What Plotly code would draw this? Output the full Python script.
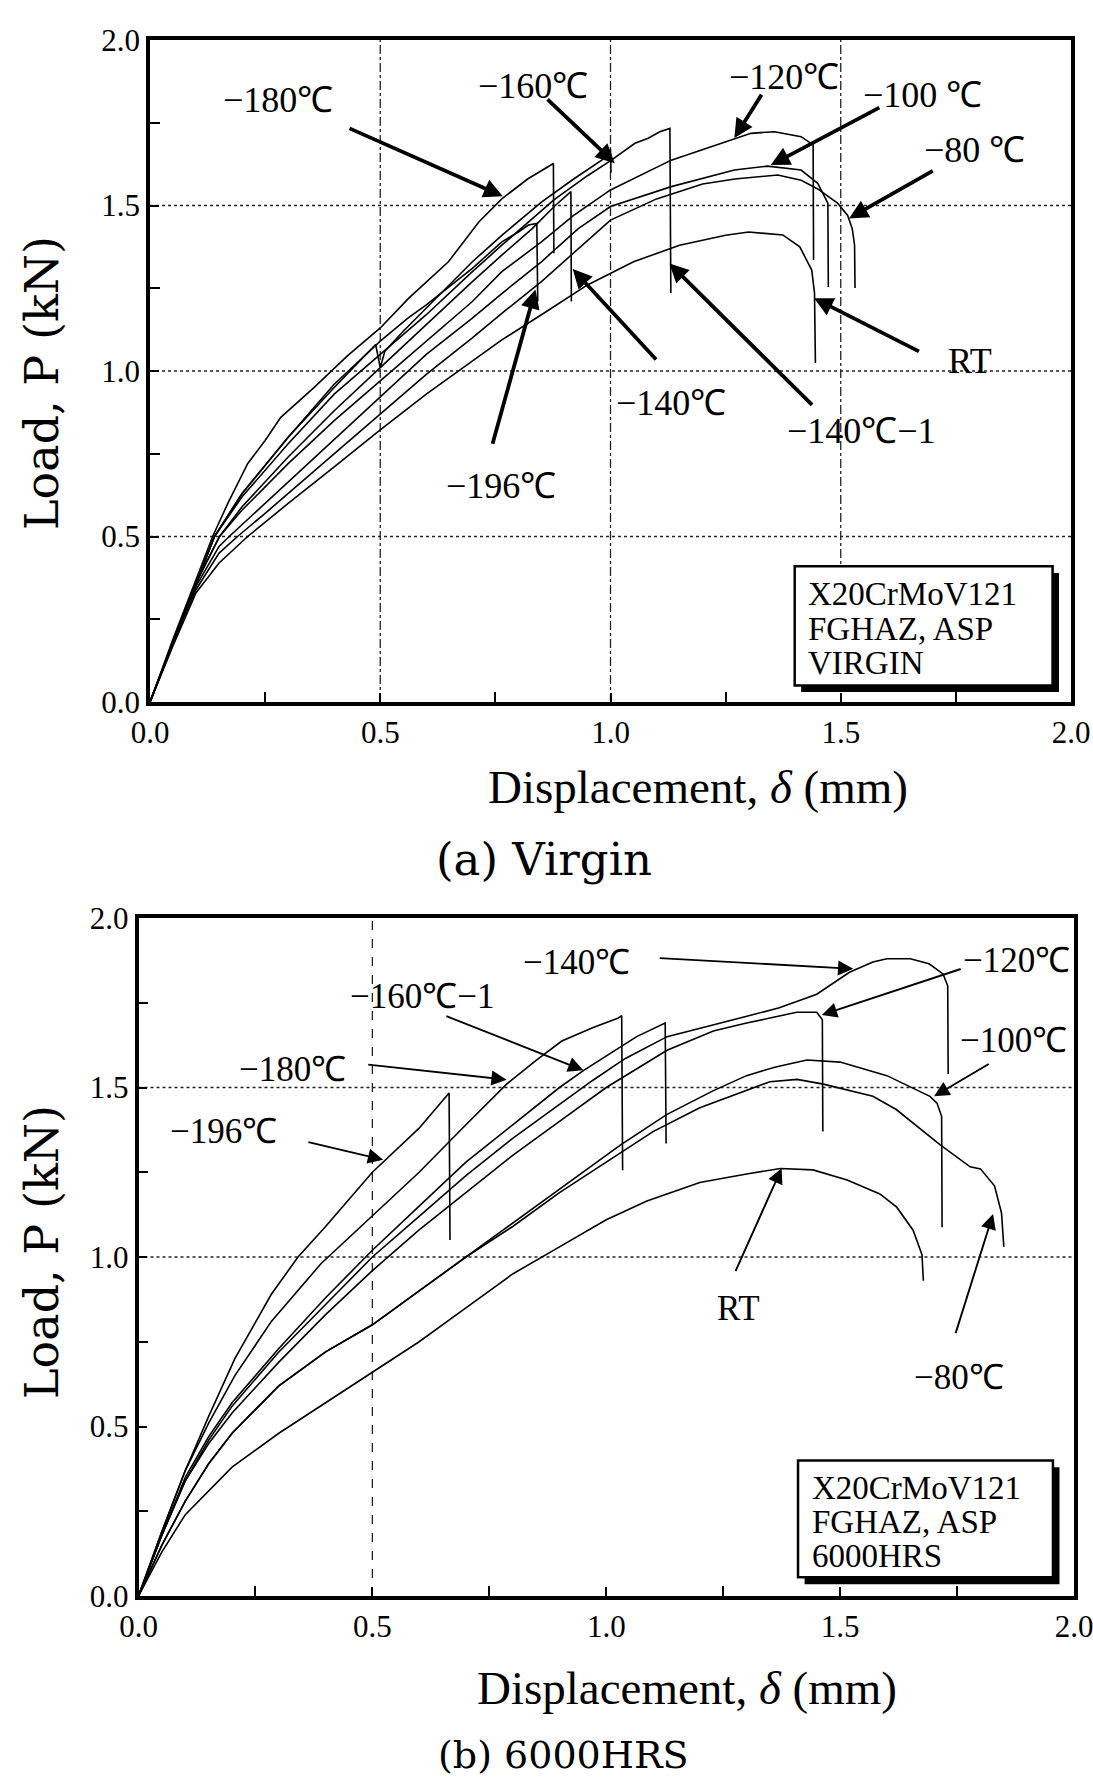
import plotly.graph_objects as go

# ---------------- (a) Virgin : load-displacement curves ----------------
a_m196_x = [0, 0.05, 0.10, 0.14, 0.20, 0.30, 0.40, 0.50, 0.56, 0.60, 0.70, 0.764, 0.80, 0.822, 0.840, 0.842]
a_m196_y = [0, 0.18, 0.36, 0.50, 0.63, 0.80, 0.96, 1.09, 1.16, 1.20, 1.31, 1.39, 1.42, 1.441, 1.446, 1.21]

a_m180_x = [0, 0.05, 0.10, 0.136, 0.169, 0.212, 0.25, 0.284, 0.356, 0.428, 0.50, 0.562, 0.648, 0.714, 0.764, 0.82, 0.876, 0.877]
a_m180_y = [0, 0.19, 0.37, 0.50, 0.60, 0.72, 0.79, 0.86, 0.95, 1.045, 1.13, 1.22, 1.33, 1.45, 1.52, 1.58, 1.627, 1.356]

a_m160_x = [0, 0.05, 0.10, 0.14, 0.20, 0.30, 0.40, 0.49, 0.50, 0.51, 0.55, 0.60, 0.70, 0.764, 0.85, 0.92, 0.981, 1.000, 1.001]
a_m160_y = [0, 0.18, 0.36, 0.50, 0.63, 0.80, 0.95, 1.08, 1.01, 1.06, 1.12, 1.19, 1.33, 1.41, 1.51, 1.58, 1.637, 1.668, 1.60]

a_m140_x = [0, 0.05, 0.10, 0.151, 0.20, 0.30, 0.40, 0.50, 0.60, 0.70, 0.764, 0.83, 0.88, 0.914, 0.915]
a_m140_y = [0, 0.18, 0.36, 0.50, 0.59, 0.74, 0.88, 1.01, 1.14, 1.27, 1.35, 1.43, 1.50, 1.542, 1.21]

a_m140b_x = [0, 0.05, 0.10, 0.14, 0.20, 0.30, 0.40, 0.50, 0.60, 0.70, 0.764, 0.877, 0.95, 1.002, 1.053, 1.082, 1.107, 1.129, 1.131]
a_m140b_y = [0, 0.18, 0.36, 0.50, 0.62, 0.78, 0.93, 1.05, 1.17, 1.30, 1.38, 1.517, 1.59, 1.637, 1.688, 1.703, 1.723, 1.733, 1.236]

a_m120_x = [0, 0.05, 0.10, 0.151, 0.20, 0.30, 0.40, 0.50, 0.60, 0.70, 0.764, 0.85, 0.92, 1.00, 1.132, 1.269, 1.305, 1.356, 1.414, 1.44, 1.441]
a_m120_y = [0, 0.18, 0.36, 0.50, 0.58, 0.72, 0.85, 0.97, 1.09, 1.21, 1.30, 1.39, 1.47, 1.547, 1.637, 1.703, 1.718, 1.723, 1.708, 1.683, 1.335]

a_m100_x = [0, 0.05, 0.10, 0.15, 0.172, 0.25, 0.35, 0.50, 0.60, 0.70, 0.764, 0.85, 0.93, 1.00, 1.132, 1.269, 1.341, 1.414, 1.45, 1.472, 1.473]
a_m100_y = [0, 0.18, 0.35, 0.47, 0.50, 0.60, 0.73, 0.92, 1.05, 1.16, 1.234, 1.33, 1.43, 1.497, 1.557, 1.607, 1.619, 1.607, 1.567, 1.507, 1.254]

a_m80_x = [0, 0.05, 0.10, 0.15, 0.19, 0.25, 0.35, 0.50, 0.60, 0.70, 0.764, 0.85, 0.93, 1.00, 1.10, 1.20, 1.27, 1.363, 1.414, 1.45, 1.493, 1.515, 1.525, 1.530, 1.531]
a_m80_y = [0, 0.18, 0.34, 0.45, 0.50, 0.57, 0.69, 0.87, 0.99, 1.10, 1.174, 1.27, 1.37, 1.456, 1.52, 1.565, 1.58, 1.592, 1.576, 1.55, 1.507, 1.47, 1.43, 1.38, 1.251]

a_rt_x = [0, 0.05, 0.10, 0.15, 0.212, 0.30, 0.40, 0.50, 0.60, 0.70, 0.764, 0.85, 0.95, 1.05, 1.15, 1.25, 1.30, 1.374, 1.411, 1.437, 1.443, 1.445]
a_rt_y = [0, 0.17, 0.33, 0.42, 0.50, 0.60, 0.71, 0.822, 0.93, 1.03, 1.094, 1.17, 1.26, 1.33, 1.38, 1.41, 1.42, 1.411, 1.375, 1.305, 1.236, 1.024]

# ---------------- (b) 6000HRS : load-displacement curves ----------------
b_m196_x = [0, 0.05, 0.10, 0.15, 0.206, 0.284, 0.341, 0.40, 0.50, 0.60, 0.664, 0.666]
b_m196_y = [0, 0.19, 0.37, 0.53, 0.70, 0.89, 1.00, 1.09, 1.25, 1.38, 1.484, 1.05]

b_m180_x = [0, 0.05, 0.10, 0.15, 0.206, 0.284, 0.39, 0.50, 0.60, 0.70, 0.787, 0.85, 0.905, 0.972, 1.026, 1.033, 1.035]
b_m180_y = [0, 0.19, 0.37, 0.51, 0.65, 0.81, 0.98, 1.12, 1.25, 1.39, 1.51, 1.58, 1.637, 1.677, 1.705, 1.712, 1.256]

b_m160_x = [0, 0.05, 0.10, 0.15, 0.20, 0.30, 0.40, 0.50, 0.60, 0.70, 0.80, 0.90, 0.951, 1.036, 1.065, 1.126, 1.128]
b_m160_y = [0, 0.18, 0.35, 0.47, 0.57, 0.73, 0.88, 1.02, 1.15, 1.28, 1.39, 1.50, 1.55, 1.625, 1.65, 1.69, 1.335]

b_m140_x = [0, 0.05, 0.10, 0.15, 0.20, 0.30, 0.40, 0.50, 0.60, 0.70, 0.80, 0.90, 0.97, 1.04, 1.13, 1.23, 1.37, 1.45, 1.52, 1.57, 1.60, 1.65, 1.69, 1.72, 1.73, 1.731]
b_m140_y = [0, 0.18, 0.34, 0.46, 0.56, 0.72, 0.86, 1.00, 1.12, 1.24, 1.35, 1.45, 1.52, 1.585, 1.65, 1.685, 1.735, 1.775, 1.84, 1.87, 1.88, 1.88, 1.865, 1.835, 1.80, 1.54]

b_m120_x = [0, 0.05, 0.10, 0.15, 0.20, 0.30, 0.40, 0.50, 0.60, 0.70, 0.80, 0.90, 1.00, 1.13, 1.229, 1.30, 1.407, 1.45, 1.462, 1.463]
b_m120_y = [0, 0.18, 0.34, 0.45, 0.54, 0.69, 0.83, 0.96, 1.08, 1.19, 1.30, 1.40, 1.50, 1.61, 1.667, 1.69, 1.722, 1.722, 1.70, 1.37]

b_m100_x = [0, 0.05, 0.10, 0.15, 0.20, 0.30, 0.40, 0.50, 0.60, 0.70, 0.80, 0.90, 1.00, 1.03, 1.129, 1.228, 1.30, 1.36, 1.429, 1.50, 1.60, 1.692, 1.707, 1.717, 1.718]
b_m100_y = [0, 0.15, 0.28, 0.39, 0.48, 0.62, 0.72, 0.80, 0.90, 1.00, 1.10, 1.20, 1.30, 1.33, 1.42, 1.49, 1.535, 1.56, 1.581, 1.575, 1.535, 1.474, 1.454, 1.415, 1.088]

b_m80_x = [0, 0.05, 0.10, 0.15, 0.20, 0.30, 0.40, 0.50, 0.60, 0.70, 0.80, 0.90, 1.00, 1.10, 1.20, 1.30, 1.35, 1.408, 1.464, 1.57, 1.62, 1.714, 1.778, 1.80, 1.83, 1.845, 1.85]
b_m80_y = [0, 0.15, 0.28, 0.39, 0.48, 0.62, 0.72, 0.80, 0.90, 1.00, 1.09, 1.19, 1.28, 1.37, 1.44, 1.49, 1.517, 1.524, 1.51, 1.474, 1.435, 1.331, 1.266, 1.26, 1.21, 1.13, 1.03]

b_rt_x = [0, 0.05, 0.10, 0.20, 0.30, 0.40, 0.50, 0.60, 0.70, 0.80, 0.90, 1.00, 1.087, 1.20, 1.30, 1.372, 1.442, 1.515, 1.585, 1.621, 1.656, 1.675, 1.678]
b_rt_y = [0, 0.13, 0.24, 0.38, 0.48, 0.57, 0.66, 0.75, 0.85, 0.95, 1.03, 1.11, 1.165, 1.22, 1.245, 1.261, 1.257, 1.227, 1.186, 1.147, 1.079, 1.007, 0.93]

# ---------------- labels ----------------
a_label_text = ["−180℃", "−160℃", "−120℃", "−100 ℃", "−80 ℃", "RT", "−140℃", "−140℃−1", "−196℃"]
a_label_pos = [(0.279, 1.819), (0.831, 1.861), (1.377, 1.888), (1.677, 1.834), (1.79, 1.668),
               (1.781, 1.03), (1.132, 0.903), (1.546, 0.819), (0.763, 0.653)]
a_arrow_tail = [(0.43, 1.735), (0.86, 1.825), (1.33, 1.839), (1.587, 1.798), (1.703, 1.607),
                (1.673, 1.057), (1.102, 1.03), (1.441, 0.893), (0.743, 0.776)]
a_arrow_head = [(0.766, 1.528), (1.009, 1.628), (1.269, 1.704), (1.348, 1.622), (1.518, 1.461),
                (1.442, 1.22), (0.918, 1.308), (1.128, 1.325), (0.837, 1.246)]

b_label_text = ["−140℃", "−160℃−1", "−180℃", "−196℃", "−120℃", "−100℃", "RT", "−80℃"]
b_label_pos = [(0.937, 1.869), (0.606, 1.768), (0.330, 1.554), (0.182, 1.37), (1.876, 1.875),
               (1.871, 1.64), (1.282, 0.847), (1.754, 0.645)]
b_arrow_tail = [(1.111, 1.882), (0.655, 1.712), (0.488, 1.568), (0.36, 1.34), (1.761, 1.851),
                (1.821, 1.572), (1.275, 0.954), (1.746, 0.771)]
b_arrow_head = [(1.528, 1.85), (0.951, 1.551), (0.787, 1.523), (0.523, 1.287), (1.461, 1.714),
                (1.701, 1.474), (1.375, 1.262), (1.827, 1.127)]

a_box_lines = ["X20CrMoV121", "FGHAZ, ASP", "VIRGIN"]
b_box_lines = ["X20CrMoV121", "FGHAZ, ASP", "6000HRS"]

grid_a_x = [0.5, 1.0, 1.5]
grid_a_y = [0.5, 1.0, 1.5]
grid_b_x = [0.5]
grid_b_y = [1.0, 1.5]

tick_vals = [0.0, 0.5, 1.0, 1.5, 2.0]

# ---------------- figure ----------------
fig = go.Figure()
SERIF = "Liberation Serif"
WIDE_SERIF = "DejaVu Serif"

a_series = [(a_m196_x, a_m196_y), (a_m180_x, a_m180_y), (a_m160_x, a_m160_y), (a_m140_x, a_m140_y),
            (a_m140b_x, a_m140b_y), (a_m120_x, a_m120_y), (a_m100_x, a_m100_y), (a_m80_x, a_m80_y),
            (a_rt_x, a_rt_y)]
b_series = [(b_m196_x, b_m196_y), (b_m180_x, b_m180_y), (b_m160_x, b_m160_y), (b_m140_x, b_m140_y),
            (b_m120_x, b_m120_y), (b_m100_x, b_m100_y), (b_m80_x, b_m80_y), (b_rt_x, b_rt_y)]

for xs, ys in a_series:
    fig.add_trace(go.Scatter(x=xs, y=ys, mode="lines", line=dict(color="black", width=1.6),
                             xaxis="x", yaxis="y", showlegend=False, hoverinfo="skip"))
for xs, ys in b_series:
    fig.add_trace(go.Scatter(x=xs, y=ys, mode="lines", line=dict(color="black", width=1.6),
                             xaxis="x2", yaxis="y2", showlegend=False, hoverinfo="skip"))

def axis(domain, anchor):
    return dict(domain=domain, anchor=anchor, range=[0, 2], tickvals=tick_vals,
                ticktext=[f"{v:.1f}" for v in tick_vals], automargin=False,
                ticklabeloverflow="allow",
                ticks="inside", ticklen=9, tickwidth=1.5, tickcolor="black",
                minor=dict(tickvals=[0.25, 0.75, 1.25, 1.75], ticks="inside", ticklen=10,
                           tickwidth=1.5, tickcolor="black", showgrid=False),
                showline=True, linewidth=3.5, linecolor="black", mirror=True,
                showgrid=False, zeroline=False, fixedrange=True,
                tickfont=dict(family=SERIF, size=31, color="black"))

shapes = []
for g in grid_a_x:
    shapes.append(dict(type="line", xref="x", yref="y", x0=g, x1=g, y0=0, y1=2, layer="below",
                       line=dict(color="#222", width=1.3, dash="dashdot")))
for g in grid_a_y:
    shapes.append(dict(type="line", xref="x", yref="y", x0=0, x1=2, y0=g, y1=g, layer="below",
                       line=dict(color="#222", width=1.4, dash="dot")))
for g in grid_b_x:
    shapes.append(dict(type="line", xref="x2", yref="y2", x0=g, x1=g, y0=0, y1=2, layer="below",
                       line=dict(color="#222", width=1.3, dash="dash")))
for g in grid_b_y:
    shapes.append(dict(type="line", xref="x2", yref="y2", x0=0, x1=2, y0=g, y1=g, layer="below",
                       line=dict(color="#222", width=1.4, dash="dot")))

# info boxes with shadow
def box(xr, yr, x0, x1, y0, y1, dx, dy):
    shapes.append(dict(type="rect", xref=xr, yref=yr, x0=x0 + dx, x1=x1 + dx, y0=y0 - dy, y1=y1 - dy,
                       fillcolor="black", line=dict(width=0)))
    shapes.append(dict(type="rect", xref=xr, yref=yr, x0=x0, x1=x1, y0=y0, y1=y1,
                       fillcolor="white", line=dict(color="black", width=2.5)))

box("x", "y", 1.40, 1.96, 0.05, 0.41, 0.014, 0.02)
box("x2", "y2", 1.41, 1.955, 0.055, 0.40, 0.014, 0.02)

annotations = []
for t, (lx, ly) in zip(a_label_text, a_label_pos):
    annotations.append(dict(xref="x", yref="y", x=lx, y=ly, text=t, showarrow=False,
                            font=dict(family=SERIF, size=36, color="black")))
for (tx, ty), (hx, hy) in zip(a_arrow_tail, a_arrow_head):
    annotations.append(dict(xref="x", yref="y", axref="x", ayref="y", x=hx, y=hy, ax=tx, ay=ty,
                            text="", showarrow=True, arrowhead=2, arrowsize=1.0, arrowwidth=3.8,
                            arrowcolor="black", standoff=0, startstandoff=0))
for t, (lx, ly) in zip(b_label_text, b_label_pos):
    annotations.append(dict(xref="x2", yref="y2", x=lx, y=ly, text=t, showarrow=False,
                            font=dict(family=SERIF, size=35, color="black")))
for (tx, ty), (hx, hy) in zip(b_arrow_tail, b_arrow_head):
    annotations.append(dict(xref="x2", yref="y2", axref="x2", ayref="y2", x=hx, y=hy, ax=tx, ay=ty,
                            text="", showarrow=True, arrowhead=2, arrowsize=1.6, arrowwidth=1.9,
                            arrowcolor="black", standoff=0, startstandoff=0))

for i, t in enumerate(a_box_lines):
    annotations.append(dict(xref="x", yref="y", x=1.425, y=[0.325, 0.222, 0.119][i], text=t,
                            showarrow=False, xanchor="left",
                            font=dict(family=SERIF, size=33, color="black")))
for i, t in enumerate(b_box_lines):
    annotations.append(dict(xref="x2", yref="y2", x=1.435, y=[0.320, 0.219, 0.118][i], text=t,
                            showarrow=False, xanchor="left",
                            font=dict(family=SERIF, size=33, color="black")))

W, H = 1093, 1780
def paper(px, py, text, size, family=SERIF, angle=0, xanchor="center"):
    annotations.append(dict(xref="paper", yref="paper", x=px / W, y=1 - py / H, text=text,
                            showarrow=False, textangle=angle, xanchor=xanchor, yanchor="middle",
                            font=dict(family=family, size=size, color="black")))

paper(42, 383, "Load, P (kN)", 46, family=WIDE_SERIF, angle=-90)
paper(42, 1252, "Load, P (kN)", 46, family=WIDE_SERIF, angle=-90)
paper(698, 787, "Displacement, <i>δ</i> (mm)", 47)
paper(687, 1688, "Displacement, <i>δ</i> (mm)", 47)
paper(434, 859, "(a) Virgin", 45, family=WIDE_SERIF, xanchor="left")
paper(436, 1755, "(b) 6000HRS", 38, family=WIDE_SERIF, xanchor="left")

fig.update_layout(
    width=W, height=H, autosize=False,
    margin=dict(l=0, r=0, t=0, b=0, autoexpand=False),
    paper_bgcolor="white", plot_bgcolor="white",
    xaxis=axis([150 / W, 1071 / W], "y"),
    yaxis=axis([(H - 702) / H, (H - 40) / H], "x"),
    xaxis2=axis([138.5 / W, 1074 / W], "y2"),
    yaxis2=axis([(H - 1596) / H, (H - 918) / H], "x2"),
    shapes=shapes, annotations=annotations,
)

fig.write_html("out.html")
